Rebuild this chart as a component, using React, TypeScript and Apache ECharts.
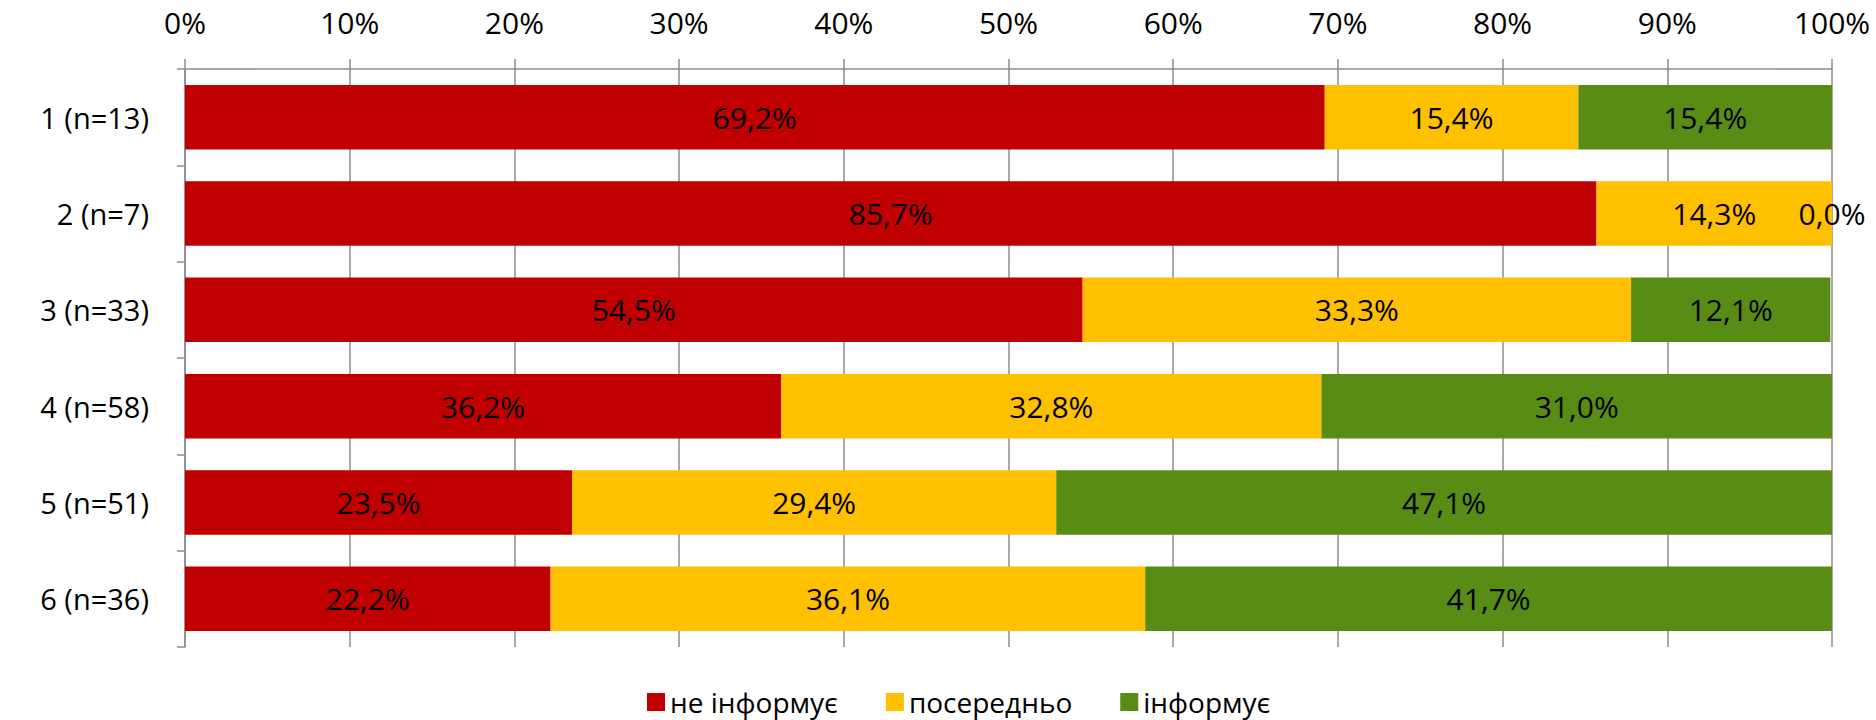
import React, { useEffect, useRef } from "react";
import * as echarts from "echarts";

const categories = ["1 (n=13)", "2 (n=7)", "3 (n=33)", "4 (n=58)", "5 (n=51)", "6 (n=36)"];
const seriesNames = ["не інформує", "посередньо", "інформує"];
const notInforms = [69.2, 85.7, 54.5, 36.2, 23.5, 22.2];
const moderate = [15.4, 14.3, 33.3, 32.8, 29.4, 36.1];
const informs = [15.4, 0.0, 12.1, 31.0, 47.1, 41.7];
const colors = ["#C00000", "#FFC000", "#588C14"];

const FONT = "Open Sans";

export default function App() {
  const ref = useRef<HTMLDivElement>(null);
  useEffect(() => {
    if (!ref.current) return;
    const chart = echarts.init(ref.current, null, { renderer: "svg" });
    const values = [notInforms, moderate, informs];
    chart.setOption({
      animation: false,
      textStyle: { fontFamily: FONT },
      grid: { left: 185, right: 44, top: 69, bottom: 73 },
      legend: {
        left: 647,
        top: 688,
        padding: 0,
        itemWidth: 18,
        itemHeight: 18,
        itemGap: 48,
        icon: "rect",
        textStyle: { fontSize: 28, lineHeight: 28, color: "#000", fontFamily: FONT },
        data: seriesNames,
      },
      xAxis: {
        type: "value",
        position: "top",
        min: 0,
        max: 100,
        interval: 10,
        axisLine: { show: true, lineStyle: { color: "#8C8C8C", width: 1.5 } },
        axisTick: { show: true, length: 10, lineStyle: { color: "#8C8C8C", width: 1.5 } },
        splitLine: { show: true, lineStyle: { color: "#8C8C8C", width: 1.5 } },
        axisLabel: {
          margin: 32,
          fontSize: 30,
          color: "#000",
          fontFamily: FONT,
          formatter: (v: number) => `${v}%`,
        },
      },
      yAxis: {
        type: "category",
        inverse: true,
        data: categories,
        axisLine: { show: true, lineStyle: { color: "#8C8C8C", width: 1.5 } },
        axisTick: { show: true, length: 8, alignWithLabel: false, lineStyle: { color: "#8C8C8C", width: 1.5 } },
        axisLabel: { margin: 36, fontSize: 29, color: "#000", fontFamily: FONT },
      },
      series: seriesNames.map((name, i) => ({
        name,
        type: "bar",
        stack: "total",
        barWidth: "67%",
        data: values[i],
        itemStyle: { color: colors[i] },
        label: {
          show: true,
          position: "inside",
          color: "#000",
          fontSize: 30,
          fontFamily: FONT,
          formatter: (p: any) => `${Number(p.value).toFixed(1).replace(".", ",")}%`,
        },
      })),
    });
    return () => chart.dispose();
  }, []);
  return (
    <div
      ref={ref}
      style={{ position: "absolute", left: 0, top: 0, width: 1876, height: 720 }}
    />
  );
}
